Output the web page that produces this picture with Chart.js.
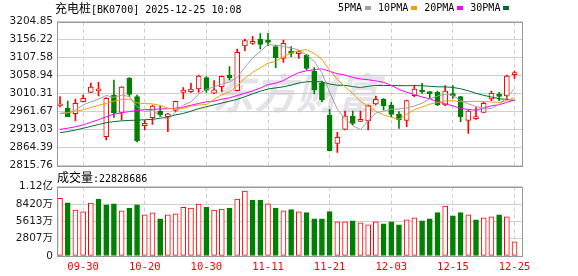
<!DOCTYPE html>
<html><head><meta charset="utf-8">
<script src="https://cdn.jsdelivr.net/npm/chart.js@4.4.1/dist/chart.umd.min.js"></script>
<style>
html,body{margin:0;padding:0;background:#fff;width:578px;height:276px;overflow:hidden;}
#wrap{position:relative;width:578px;height:276px;}
canvas{position:absolute;left:0;top:0;}
.t{position:absolute;white-space:nowrap;color:#000;font-family:"DejaVu Sans Mono",monospace;font-size:10px;line-height:12px;}
.cjk{font-family:"Noto Sans CJK SC";font-size:12px;}
.box{display:inline-block;width:6px;height:4px;margin:0 7px 0 3px;vertical-align:middle;}
</style></head>
<body><div id="wrap">
<canvas id="main" width="578" height="276"></canvas>
<canvas id="vol" width="578" height="276"></canvas>
<div class="t" style="left:55px;top:2px;"><span class="cjk">充电桩</span>[BK0700] 2025-12-25 10:08</div>
<div class="t" style="left:338px;top:2px;" id="legend"></div>
<div class="t" style="left:57px;top:171px;"><span class="cjk">成交量</span>:22828686</div>
</div>
<script>
const dates = ['09-25','09-26','09-29','09-30','10-09','10-10','10-13','10-14','10-15','10-16','10-17','10-20','10-21','10-22','10-23','10-24','10-27','10-28','10-29','10-30','10-31','11-03','11-04','11-05','11-06','11-07','11-10','11-11','11-12','11-13','11-14','11-17','11-18','11-19','11-20','11-21','11-24','11-25','11-26','11-27','11-28','12-01','12-02','12-03','12-04','12-05','12-08','12-09','12-10','12-11','12-12','12-15','12-16','12-17','12-18','12-19','12-22','12-23','12-24','12-25'];
const openP = [2977.5,2970.7,2956.3,2988.8,3014.0,3018.0,2894.2,3006.8,2959.9,3052.7,3002.3,2924.0,2945.5,2963.5,2948.2,2965.3,3014.0,3015.8,3023.0,3053.6,3012.0,3029.3,3060.8,3018.5,3139.2,3146.4,3158.1,3155.4,3137.4,3105.9,3125.7,3118.5,3114.9,3071.6,3038.3,2952.7,2876.2,2914.0,2950.0,2935.6,2936.5,2982.5,2996.0,2979.8,2955.4,2938.3,3005.0,3017.6,3012.2,3014.0,2979.8,3008.6,3002.3,2938.3,2942.8,2960.0,2996.0,3006.8,3004.1,3061.7];
const closeP = [2982.0,2948.2,2984.3,2997.8,3028.4,3019.4,2997.8,2959.0,3028.4,3008.6,2882.5,2930.2,2977.0,2952.7,2956.0,2989.7,3020.3,3023.0,3058.1,3020.0,3021.0,3057.2,3053.6,3122.1,3153.6,3149.1,3143.7,3149.1,3107.7,3146.4,3119.4,3123.0,3078.8,3020.3,2993.3,2856.4,2892.4,2950.0,2930.2,2936.5,2977.9,2995.1,2977.9,2954.5,2939.2,2991.5,3023.0,3014.9,3010.4,2979.8,3017.6,3005.0,2948.2,2963.5,2944.6,2984.3,3011.3,3003.2,3058.1,3063.5];
const highP = [3002.2,2990.6,2996.0,3006.8,3039.2,3041.0,2999.6,3047.3,3029.3,3053.6,3006.8,2938.3,2979.8,2977.9,2957.2,2990.6,3026.6,3038.3,3060.8,3056.3,3045.5,3058.1,3083.3,3131.1,3158.1,3165.3,3172.5,3173.4,3141.9,3155.4,3137.4,3125.7,3116.7,3080.6,3044.6,2968.0,2905.9,2963.5,2963.5,2963.5,2979.7,3004.1,2996.9,2987.0,2961.7,2993.3,3033.8,3038.3,3015.8,3017.6,3032.0,3032.0,3003.2,2965.3,2972.5,2987.0,3017.6,3014.0,3060.8,3071.6];
const lowP = [2974.4,2948.2,2936.5,2987.9,3013.1,3004.1,2885.2,2946.4,2939.2,3002.3,2879.8,2912.2,2927.5,2948.2,2907.7,2961.7,2996.0,3014.0,3014.0,3014.0,3010.4,3015.8,3047.3,3017.6,3126.6,3143.7,3131.1,3140.1,3080.6,3095.0,3110.4,3105.9,3074.3,3009.5,2988.8,2855.5,2851.9,2912.2,2925.7,2934.7,2912.2,2979.8,2966.2,2948.2,2916.7,2921.2,3002.3,3011.3,2997.8,2977.9,2977.9,2997.8,2934.7,2903.2,2941.0,2959.0,2991.5,2991.5,2997.8,3051.8];
const volume = [9335,8630,7459,7138,8581,9223,8309,8469,7298,7779,8309,6657,6977,6015,6657,6817,7892,7779,8421,7940,7459,7619,7779,9223,10506,9063,9063,8469,7779,7298,7507,7138,7026,6015,6015,7186,5534,5534,5694,5373,5053,5534,5213,5534,5053,5855,6175,5694,6015,7026,8100,6496,7026,6657,5855,6175,6336,6657,6336,2282.8686];
const ma5 = [2957,2959,2966,2980,2988.1,2995.6,3005.5,3000.5,3006.6,3002.6,2975.3,2961.7,2965.3,2950.2,2939.7,2961.1,2979.1,2988.3,3009.4,3022.2,3028.5,3035.9,3042.0,3054.8,3081.5,3107.1,3124.4,3143.5,3140.6,3139.2,3133.3,3129.1,3115.1,3097.6,3067.0,3014.4,2968.2,2942.5,2924.5,2913.1,2937.4,2957.9,2963.5,2968.4,2968.9,2971.6,2977.2,2984.6,2995.8,3003.9,3009.1,3005.5,2992.2,2982.8,2975.8,2969.1,2970.4,2981.4,3000.3,3024.1];
const ma10 = [2957,2959,2962,2967,2973,2979,2984,2990,2995,2995.4,2985.4,2983.6,2982.9,2978.4,2971.2,2968.2,2970.4,2976.8,2979.8,2981.0,2994.8,3007.5,3015.2,3032.1,3051.9,3067.8,3080.1,3092.8,3097.7,3110.4,3120.2,3126.8,3129.3,3119.1,3103.1,3073.8,3048.7,3028.8,3011.0,2990.0,2975.9,2963.1,2953.0,2946.4,2941.0,2954.5,2967.6,2974.1,2982.1,2986.4,2990.4,2991.4,2988.4,2989.3,2989.9,2989.1,2988.0,2986.8,2991.6,2999.9];
const ma20 = [2914,2917,2921,2926,2933,2940,2948,2955,2959,2962,2965,2967,2968,2969,2970,2971,2974,2979,2984,2988.2,2990.1,2995.6,2999.0,3005.3,3011.5,3018.0,3025.3,3034.8,3038.8,3045.7,3057.5,3067.1,3072.2,3075.6,3077.5,3070.8,3064.4,3060.8,3054.4,3050.2,3048.0,3044.9,3041.1,3032.8,3022.0,3014.2,3008.1,3001.4,2996.6,2988.2,2983.1,2977.2,2970.7,2967.9,2965.4,2971.8,2977.8,2980.4,2986.8,2993.2];
const ma30 = [2905,2908,2912,2917,2922,2927,2932,2935,2937,2938,2939,2940,2941,2944,2948,2953,2957,2963,2970,2975,2980,2985,2990,2995,3002,3010,3017,3023,3026,3028.9,3033.5,3039.3,3042.5,3043.2,3042.0,3036.6,3033.1,3032.8,3029.5,3027.1,3030.3,3032.5,3032.5,3032.5,3032.0,3032.0,3032.1,3031.9,3030.3,3028.9,3028.8,3027.1,3023.6,3018.3,3011.3,3005.8,3001.4,2996.5,2994.9,2992.1];
const priceTickLabels = ['3204.85','3156.22','3107.58','3058.94','3010.31','2961.67','2913.03','2864.39','2815.76'];
const volTickValues = [0,2807,5613,8420,11227];
const volTickLabels = ['0','2807万','5613万','8420万','1.12亿'];
const xTickLabels = ['09-30','10-20','10-30','11-11','11-21','12-03','12-15','12-25'];
const maNames = ['5PMA','10PMA','20PMA','30PMA'];

const RED = '#ff0000', GREEN = '#008000';
const maColors = ['#a0a0a0','#f0a000','#ff00ff','#006f30'];
const XMIN = -0.39, XMAX = 59.97;
const idx = dates.map((d,i)=>i);
const xTickIdx = xTickLabels.map(l=>dates.indexOf(l));
const up = idx.map(i=>closeP[i] >= openP[i]);
const volUp = idx.map(i=> i===0 ? up[0] : closeP[i] >= closeP[i-1]);

document.getElementById('legend').innerHTML = maNames.map((n,k)=>n+'<span class="box" style="background:'+maColors[k]+'"></span>').join('');

const priceVals = priceTickLabels.map(Number);

const framePlugin = {
  id:'frame',
  afterDraw(c){
    const a=c.chartArea, ctx=c.ctx;
    ctx.save(); ctx.strokeStyle='#999'; ctx.lineWidth=1;
    ctx.strokeRect(Math.round(a.left)+0.5, Math.round(a.top)+0.5, Math.round(a.right-a.left), Math.round(a.bottom-a.top));
    ctx.restore();
  }
};
const watermark = {
  id:'wm',
  beforeDatasetsDraw(c){
    const ctx=c.ctx; ctx.save();
    ctx.fillStyle='rgba(200,200,212,0.5)';
    ctx.font='italic bold 42px "Noto Sans CJK SC"';
    ctx.textBaseline='middle';
    ctx.fillText('东方财富', 212, 93);
    ctx.restore();
  }
};

const gridX = {color:'#cfcfcf', drawTicks:false, offset:false};
const xAxisCommon = {type:'linear', offset:false, min:XMIN, max:XMAX, grid:gridX, border:{display:false, dash:[4,3]},
  afterBuildTicks(s){ s.ticks = xTickIdx.map(v=>({value:v})); }};

new Chart(document.getElementById('main'), {
  data:{datasets:[
    ...maNames.map((n,k)=>({type:'line', label:n, data:idx.map(i=>({x:i,y:[ma5,ma10,ma20,ma30][k][i]})), borderColor:maColors[k], borderWidth:1, pointRadius:0, tension:0, order:0})),
    {type:'bar', label:'body', data:idx.map(i=>({x:i,y:[openP[i],closeP[i]]})), backgroundColor:idx.map(i=>up[i]?'#fff':GREEN), borderColor:idx.map(i=>up[i]?RED:GREEN), borderWidth:1, borderSkipped:false, barThickness:5, minBarLength:2, grouped:false, order:1},
    {type:'bar', label:'wick', data:idx.map(i=>({x:i,y:[lowP[i],highP[i]]})), backgroundColor:idx.map(i=>up[i]?RED:GREEN), barThickness:1, grouped:false, order:2}
  ]},
  options:{
    responsive:false, animation:false, events:[],
    layout:{padding:{left:0,right:56,top:21.7,bottom:110.3}},
    plugins:{legend:{display:false}, tooltip:{enabled:false}},
    scales:{
      x:{...xAxisCommon, ticks:{display:false}, afterFit(s){s.height=0;}},
      y:{type:'linear', min:priceVals[priceVals.length-1], max:priceVals[0], grid:{color:'#cfcfcf', drawTicks:false}, border:{display:false},
        afterBuildTicks(s){ s.ticks = priceVals.map(v=>({value:v})); },
        ticks:{padding:4, color:'#1a1a1a', font:{family:'"DejaVu Sans"', size:10.5}, callback:(v,i)=>priceTickLabels[priceVals.indexOf(v)]},
        afterFit(s){s.width=57;}}
    }
  },
  plugins:[watermark, framePlugin]
});

new Chart(document.getElementById('vol'), {
  type:'bar',
  data:{datasets:[{data:idx.map(i=>({x:i,y:volume[i]})), backgroundColor:idx.map(i=>volUp[i]?'#fff':GREEN), borderColor:idx.map(i=>volUp[i]?RED:GREEN), borderWidth:1, borderSkipped:false, barThickness:5}]},
  options:{
    responsive:false, animation:false, events:[],
    layout:{padding:{left:0,right:56,top:186.7,bottom:0}},
    plugins:{legend:{display:false}, tooltip:{enabled:false}},
    scales:{
      x:{...xAxisCommon, ticks:{display:true, padding:5, color:RED, maxRotation:0, autoSkip:false, font:{family:'"DejaVu Sans Mono"', size:10.5}, callback:(v)=>dates[v]}, afterFit(s){s.height=20;}},
      y:{type:'linear', min:0, max:volTickValues[volTickValues.length-1], grid:{color:'#cfcfcf', drawTicks:false}, border:{display:false},
        afterBuildTicks(s){ s.ticks = volTickValues.map(v=>({value:v})); },
        ticks:{padding:4, color:'#1a1a1a', font:{family:'"DejaVu Sans","Noto Sans CJK SC"', size:10.5}, callback:(v)=>volTickLabels[volTickValues.indexOf(v)]},
        afterFit(s){s.width=57;}}
    }
  },
  plugins:[framePlugin]
});
</script>
</body></html>
